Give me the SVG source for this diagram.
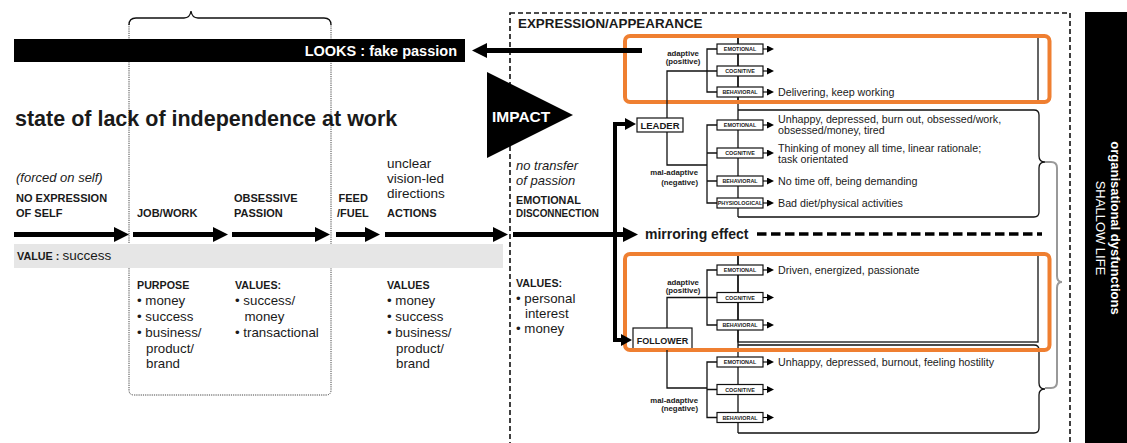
<svg xmlns="http://www.w3.org/2000/svg" width="1127" height="443" viewBox="0 0 1127 443">
<defs>
<style>
text{font-family:"Liberation Sans",Arial,sans-serif;fill:#1a1a1a}
.b{font-weight:bold}
.i{font-style:italic}
.lab{font-size:11px;font-weight:bold}
.note{font-size:13.3px}
.sm{font-size:5.4px;font-weight:bold;text-anchor:middle}
.desc{font-size:10.7px}
.ad{font-size:7.8px;font-weight:bold}
.thin{fill:none;stroke:#111;stroke-width:1.3}
.sbox{fill:#fff;stroke:#111;stroke-width:1.2}
.orange{fill:none;stroke:#EF7F31;stroke-width:4}
.shaft{fill:none;stroke:#000;stroke-width:5}
.med{fill:none;stroke:#000;stroke-width:4}
.white{fill:#fff}
</style>
<marker id="ah" markerUnits="userSpaceOnUse" markerWidth="16" markerHeight="16" refX="3" refY="8" orient="auto"><path d="M0,0.5 L15,8 L0,15.5 z" fill="#000"/></marker>
<marker id="ma" markerUnits="userSpaceOnUse" markerWidth="12" markerHeight="12" refX="2" refY="6" orient="auto"><path d="M0,0 L11,6 L0,12 z" fill="#000"/></marker>
<marker id="sa" markerUnits="userSpaceOnUse" markerWidth="8" markerHeight="8" refX="1" refY="3.5" orient="auto"><path d="M0,0 L7,3.5 L0,7 z" fill="#000"/></marker>
</defs>
<rect width="1127" height="443" fill="#fff"/>

<g id="stage-frame">
<path d="M129,24 V390 Q129,395 134,395 H326 Q331,395 331,390 V24" fill="none" stroke="#444" stroke-width="1" stroke-dasharray="1.2 1"/>
<path d="M129,25 Q129,18 136,18 H184 Q190,18 191,11 Q192,18 198,18 H324 Q331,18 331,25" fill="none" stroke="#111" stroke-width="1.3"/>
</g>

<g id="looks-bar">
<rect x="14" y="39" width="451" height="23" fill="#000"/>
<text x="457" y="55.5" text-anchor="end" class="b white" font-size="14.5">LOOKS : fake passion</text>
</g>

<text x="15" y="126" class="b" font-size="21.5">state of lack of independence at work</text>

<g id="value-bar">
<rect x="14" y="244" width="489" height="24" fill="#e6e6e6"/>
<text x="17" y="260"><tspan class="b" font-size="10.8">VALUE : </tspan><tspan font-size="13.5">success</tspan></text>
</g>

<g id="no-expression">
<text x="16" y="182" class="i" font-size="13">(forced on self)</text>
<text class="lab"><tspan x="16" y="201.5">NO EXPRESSION</tspan><tspan x="16" y="216.5">OF SELF</tspan></text>
</g>
<g id="job-work">
<text x="137" y="216.5" class="lab">JOB/WORK</text>
<text x="137" y="288.5" class="b" font-size="10.7">PURPOSE</text>
<text class="note"><tspan x="137" y="305">• money</tspan><tspan x="137" y="321">• success</tspan><tspan x="137" y="337">• business/</tspan><tspan x="146" y="352.5">product/</tspan><tspan x="146" y="368">brand</tspan></text>
</g>
<g id="obsessive-passion">
<text class="lab"><tspan x="234" y="201.5">OBSESSIVE</tspan><tspan x="234" y="216.5">PASSION</tspan></text>
<text x="235" y="288.5" class="b" font-size="10.7">VALUES:</text>
<text class="note"><tspan x="235" y="305">• success/</tspan><tspan x="244.5" y="320.5">money</tspan><tspan x="235" y="336.5">• transactional</tspan></text>
</g>
<g id="feed-fuel">
<text class="lab"><tspan x="338.5" y="201.5">FEED</tspan><tspan x="337" y="216.5">/FUEL</tspan></text>
</g>
<g id="actions">
<text font-size="13.5"><tspan x="387" y="168">unclear</tspan><tspan x="387" y="183">vision-led</tspan><tspan x="387" y="198">directions</tspan></text>
<text x="387" y="216.5" class="lab">ACTIONS</text>
<text x="387" y="288.5" class="b" font-size="10.7">VALUES</text>
<text class="note"><tspan x="387" y="305">• money</tspan><tspan x="387" y="321">• success</tspan><tspan x="387" y="337">• business/</tspan><tspan x="396" y="352.5">product/</tspan><tspan x="396" y="368">brand</tspan></text>
</g>

<g id="expression-frame">
<rect x="510" y="13" width="560" height="445" fill="none" stroke="#111" stroke-width="1.6" stroke-dasharray="5 3"/>
<text x="518" y="28" class="b" font-size="13.4">EXPRESSION/APPEARANCE</text>
</g>

<g id="impact">
<polygon points="487,72 573,115 487,158" fill="#000"/>
<text x="492" y="122" class="b white" font-size="15.5">IMPACT</text>
</g>

<g id="emotional-disconnection">
<text class="i" font-size="13"><tspan x="516" y="170">no transfer</tspan><tspan x="516" y="185">of passion</tspan></text>
<text class="b" font-size="10.8"><tspan x="516" y="204">EMOTIONAL</tspan></text>
<text class="b" font-size="10.8" x="516" y="216.5" textLength="83" lengthAdjust="spacingAndGlyphs">DISCONNECTION</text>
<text x="516" y="286.5" class="b" font-size="10.7">VALUES:</text>
<text class="note"><tspan x="516" y="303">• personal</tspan><tspan x="525" y="317.5">interest</tspan><tspan x="516" y="333">• money</tspan></text>
</g>

<g id="dysfunctions-panel">
<rect x="1085" y="12" width="42" height="431" fill="#000"/>
<text transform="translate(1111,228) rotate(90)" text-anchor="middle" class="b white" font-size="13">organisational dysfunctions</text>
<text transform="translate(1096,228) rotate(90)" text-anchor="middle" class="white" font-size="13">SHALLOW LIFE</text>
</g>

<g id="trunks">
<path class="thin" d="M738,37 V217 M738,253 V433"/>
</g>

<g id="leader-adaptive">
<rect x="738" y="37" width="300" height="64" class="thin"/>
<path class="thin" d="M717,49 H707 V92 H717"/>
<text class="ad" text-anchor="middle"><tspan x="683" y="56">adaptive</tspan><tspan x="683" y="63.5">(positive)</tspan></text>
<rect x="717" y="44" width="46" height="10" class="sbox"/><text x="740" y="51" class="sm">EMOTIONAL</text>
<rect x="717" y="66" width="46" height="10" class="sbox"/><text x="740" y="73" class="sm">COGNITIVE</text>
<rect x="717" y="87" width="46" height="10" class="sbox"/><text x="740" y="94" class="sm">BEHAVIORAL</text>
<text x="778" y="95.5" class="desc">Delivering, keep working</text>
</g>

<g id="leader-maladaptive">
<path class="thin" d="M738,110 H1034 Q1039,110 1039,115 V156 Q1039,162 1045,162 Q1039,162 1039,168 V212 Q1039,217 1034,217 H738"/>
<path class="thin" d="M717,125 H707 V203 H717 M707,153 H717 M707,181 H717"/>
<text class="ad" text-anchor="end"><tspan x="698" y="175">mal-adaptive</tspan><tspan x="698" y="184.5">(negative)</tspan></text>
<rect x="717" y="120" width="46" height="10" class="sbox"/><text x="740" y="127" class="sm">EMOTIONAL</text>
<rect x="717" y="148" width="46" height="10" class="sbox"/><text x="740" y="155" class="sm">COGNITIVE</text>
<rect x="717" y="176" width="46" height="10" class="sbox"/><text x="740" y="183" class="sm">BEHAVIORAL</text>
<rect x="717" y="198" width="46" height="10" class="sbox"/><text x="740" y="205" class="sm" font-size="5">PHYSIOLOGICAL</text>
<text class="desc"><tspan x="778" y="123">Unhappy, depressed, burn out, obsessed/work,</tspan><tspan x="778" y="134">obsessed/money, tired</tspan></text>
<text class="desc"><tspan x="778" y="152">Thinking of money all time, linear rationale;</tspan><tspan x="778" y="163">task orientated</tspan></text>
<text x="778" y="184.5" class="desc">No time off, being demanding</text>
<text x="778" y="206.5" class="desc">Bad diet/physical activities</text>
</g>

<g id="leader">
<rect x="637" y="118" width="46" height="14" class="sbox" stroke-width="1.5"/>
<text x="660" y="128.5" class="b" font-size="9.5" text-anchor="middle">LEADER</text>
</g>

<g id="follower-adaptive">
<rect x="738" y="255" width="300" height="87" class="thin"/>
<path class="thin" d="M717,270 H707 V325 H717"/>
<text class="ad" text-anchor="middle"><tspan x="683" y="285">adaptive</tspan><tspan x="683" y="293">(positive)</tspan></text>
<rect x="717" y="265" width="46" height="10" class="sbox"/><text x="740" y="272" class="sm">EMOTIONAL</text>
<rect x="717" y="292.5" width="46" height="10" class="sbox"/><text x="740" y="299.5" class="sm">COGNITIVE</text>
<rect x="717" y="320" width="46" height="10" class="sbox"/><text x="740" y="327" class="sm">BEHAVIORAL</text>
<text x="778" y="273.5" class="desc">Driven, energized, passionate</text>
</g>

<g id="follower-maladaptive">
<path class="thin" d="M738,345 H1034 Q1039,345 1039,350 V383 Q1039,389 1045,389 Q1039,389 1039,395 V428 Q1039,433 1034,433 H738"/>
<path class="thin" d="M717,362 H707 V417.5 H717 M707,389.5 H717"/>
<text class="ad" text-anchor="end"><tspan x="698" y="402.5">mal-adaptive</tspan><tspan x="698" y="411">(negative)</tspan></text>
<rect x="717" y="357" width="46" height="10" class="sbox"/><text x="740" y="364" class="sm">EMOTIONAL</text>
<rect x="717" y="384.5" width="46" height="10" class="sbox"/><text x="740" y="391.5" class="sm">COGNITIVE</text>
<rect x="717" y="412.5" width="46" height="10" class="sbox"/><text x="740" y="419.5" class="sm">BEHAVIORAL</text>
<text x="778" y="365.5" class="desc">Unhappy, depressed, burnout, feeling hostility</text>
</g>

<g id="follower">
<rect x="633" y="328" width="59" height="22" class="sbox" stroke-width="1.5"/>
<text x="662.5" y="343.5" class="b" font-size="9" text-anchor="middle">FOLLOWER</text>
</g>

<g id="highlights">
<rect x="625" y="36" width="424.5" height="66" rx="5" class="orange"/>
<rect x="625" y="254" width="424.5" height="96" rx="5" class="orange"/>
</g>

<g id="connectors">
<path class="shaft" d="M14,234.5 H117" marker-end="url(#ah)"/>
<path class="shaft" d="M133,234.5 H216" marker-end="url(#ah)"/>
<path class="shaft" d="M232,234.5 H318" marker-end="url(#ah)"/>
<path class="shaft" d="M336,234.5 H368" marker-end="url(#ah)"/>
<path class="shaft" d="M385,234.5 H496" marker-end="url(#ah)"/>
<path class="shaft" d="M513,234.5 H626" marker-end="url(#ah)"/>
<path class="shaft" d="M642,50.5 H484" marker-end="url(#ah)"/>
<path class="med" d="M615,234 V124 H627" marker-end="url(#ma)"/>
<path class="med" d="M615,234 V340 H623" marker-end="url(#ma)"/>
<text x="645" y="238.5" class="b" font-size="14">mirroring effect</text>
<path d="M757,234 H1042" fill="none" stroke="#000" stroke-width="3.5" stroke-dasharray="9.5 4.5"/>
<path class="thin" d="M667,118 V71 H717 M667,132 V165 H707 M667,328 V297.5 H717 M667,350 V388 H707"/>
<g fill="none" stroke="#000" stroke-width="1.1">
<path d="M763,49 H768" marker-end="url(#sa)"/>
<path d="M763,71 H768" marker-end="url(#sa)"/>
<path d="M763,92 H768" marker-end="url(#sa)"/>
<path d="M763,125 H768" marker-end="url(#sa)"/>
<path d="M763,153 H768" marker-end="url(#sa)"/>
<path d="M763,181 H768" marker-end="url(#sa)"/>
<path d="M763,203 H768" marker-end="url(#sa)"/>
<path d="M763,270 H768" marker-end="url(#sa)"/>
<path d="M763,297.5 H768" marker-end="url(#sa)"/>
<path d="M763,325 H768" marker-end="url(#sa)"/>
<path d="M763,362 H768" marker-end="url(#sa)"/>
<path d="M763,389.5 H768" marker-end="url(#sa)"/>
<path d="M763,417.5 H768" marker-end="url(#sa)"/>
</g>
<path d="M1045,162 H1051 Q1057,162 1057,168 V276 Q1057,282 1062,282 Q1057,282 1057,288 V382 Q1057,388 1051,388 H1045" fill="none" stroke="#999" stroke-width="2"/>
</g>
</svg>
